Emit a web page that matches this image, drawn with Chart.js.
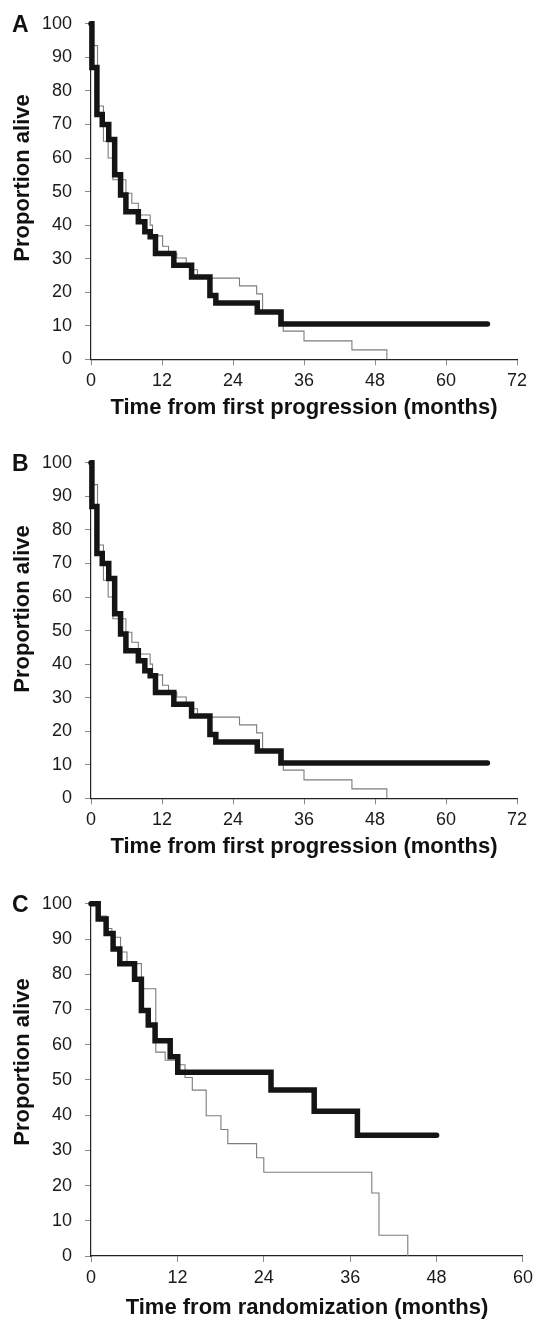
<!DOCTYPE html>
<html><head><meta charset="utf-8">
<script src="https://cdn.jsdelivr.net/npm/chart.js@4.4.1/dist/chart.umd.min.js"></script>
<style>
html,body{margin:0;padding:0;background:#fff;}
body{width:538px;height:1321px;position:relative;overflow:hidden;}
canvas{position:absolute;left:0;}
</style></head><body>
<canvas id="cA" width="538" height="430" style="top:0px"></canvas>
<canvas id="cB" width="538" height="430" style="top:439px"></canvas>
<canvas id="cC" width="538" height="441" style="top:880px"></canvas>
<script>
// ---- Data (months, % alive) ----
const yTicks = [0,10,20,30,40,50,60,70,80,90,100];
const xTicksAB = [0,12,24,36,48,60,72];
const xTicksC = [0,12,24,36,48,60];

const thickA_t = [0,0.15,1.0,1.9,3.0,4.0,5.0,5.9,8.0,9.1,10.0,10.9,14.0,17.0,20.1,21.1,28.1,32.1,67.0];
const thickA_v = [100,87,73,70,65.5,55,49,44,41,38,36.5,31.5,28,24.5,19,16.8,14.1,10.5,10.5];
const thinA_t = [0,0.45,1.1,2.1,2.9,3.7,5.9,6.9,8.0,10.0,10.4,12.1,13.1,14.5,16.1,17.3,18.0,25.1,28.0,29.0,32.5,36.0,44.1,50.0];
const thinA_v = [100,93.5,75.5,65,60,53.5,49.5,46.5,43,40,36.8,33.7,31.5,30.2,28.5,26.7,24.2,21.9,19.5,14.5,8.4,5.5,2.8,0];

const thickB_t = [0,0.15,1.0,1.9,3.0,4.0,5.0,5.9,8.0,9.1,10.0,10.9,14.0,17.0,20.1,21.1,28.1,32.1,67.0];
const thickB_v = [100,87,73,70,65.5,55,49,44,41,38,36.5,31.5,28,24.5,19,16.8,14.1,10.5,10.5];
const thinB_t = [0,0.45,1.1,2.1,2.9,3.7,5.9,6.9,8.0,10.0,10.4,12.1,13.1,14.5,16.1,17.3,18.0,25.1,28.0,29.0,32.5,36.0,44.1,50.0];
const thinB_v = [100,93.5,75.5,65,60,53.5,49.5,46.5,43,40,36.8,33.7,31.5,30.2,28.5,26.7,24.2,21.9,19.5,14.5,8.4,5.5,2.8,0];

const thickC_t = [0,1.0,2.1,3.07,4.0,6.05,7.0,7.95,8.9,11.0,12.05,25.0,31.0,37.0,48.0];
const thickC_v = [100,95.7,91.6,87.2,83,78.6,69.7,65.6,61.1,56.6,52.2,47.1,41.1,34.3,34.3];
const thinC_t = [0,0.8,2.2,2.9,4.1,5.0,7.0,9.0,10.3,11.8,13.06,14.07,16.0,18.05,19.0,23.0,24.0,39.0,40.0,44.0];
const thinC_v = [100,96.5,93,90.5,86.3,83,75.9,57.9,55.6,54.3,50.7,47.1,39.8,35.9,31.9,27.9,23.8,17.9,5.9,0];

const FONT = '"Liberation Sans", Arial, Helvetica, sans-serif';

const panelText = {
  id: 'panelText',
  afterDraw(chart, args, opts) {
    const ctx = chart.ctx;
    ctx.save();
    ctx.fillStyle = '#111';
    ctx.font = 'bold 23px ' + FONT;
    ctx.textAlign = 'left';
    ctx.textBaseline = 'middle';
    ctx.fillText(opts.letter, 12, chart.chartArea.top + 2);
    ctx.translate(23, opts.yTitleY);
    ctx.rotate(-Math.PI / 2);
    ctx.font = 'bold 22px ' + FONT;
    ctx.textAlign = 'center';
    ctx.fillText('Proportion alive', 0, 0);
    ctx.restore();
  }
};

function pts(t, v) { return t.map((x, i) => ({x: x, y: v[i]})); }

function makeChart(id, cfg) {
  return new Chart(document.getElementById(id), {
    type: 'line',
    data: {
      datasets: [
        {data: pts(cfg.thickT, cfg.thickV), stepped: 'before', borderColor: '#141414', borderWidth: 5.5,
         borderCapStyle: 'round', borderJoinStyle: 'miter', pointRadius: 0, fill: false, clip: false},
        {data: pts(cfg.thinT, cfg.thinV), stepped: 'before', borderColor: '#7d7d7d', borderWidth: 1.1,
         pointRadius: 0, fill: false, clip: false}
      ]
    },
    options: {
      responsive: false,
      animation: false,
      parsing: false,
      layout: {padding: {top: cfg.padTop, right: cfg.padRight, left: 0, bottom: 0}},
      plugins: {legend: {display: false}, tooltip: {enabled: false},
                panelText: {letter: cfg.letter, yTitleY: cfg.yTitleY}},
      scales: {
        x: {
          type: 'linear', min: 0, max: cfg.xMax,
          afterBuildTicks: s => { s.ticks = cfg.xTicks.map(v => ({value: v})); },
          afterFit: s => { s.height = cfg.xHeight; },
          border: {display: true, color: '#222', width: 1.2},
          grid: {display: true, drawOnChartArea: false, drawTicks: true, tickLength: 6, color: '#8a8a8a', lineWidth: 1},
          ticks: {font: {family: FONT, size: 18}, color: '#1a1a1a', padding: 5, maxRotation: 0, autoSkip: false},
          title: {display: true, text: cfg.xTitle, color: '#111', font: {family: FONT, size: 22, weight: 'bold'},
                  padding: {top: 0, bottom: cfg.titlePad}}
        },
        y: {
          type: 'linear', min: 0, max: 100,
          afterBuildTicks: s => { s.ticks = yTicks.map(v => ({value: v})); },
          afterFit: s => { s.width = 91; },
          border: {display: true, color: '#222', width: 1.2},
          grid: {display: true, drawOnChartArea: false, drawTicks: true, tickLength: 6, color: '#8a8a8a', lineWidth: 1},
          ticks: {font: {family: FONT, size: 18}, color: '#1a1a1a', padding: 13}
        }
      }
    },
    plugins: [panelText]
  });
}

makeChart('cA', {letter: 'A', thickT: thickA_t, thickV: thickA_v, thinT: thinA_t, thinV: thinA_v,
  xMax: 72, xTicks: xTicksAB, padTop: 21.7, padRight: 21, xHeight: 70.7, titlePad: 8.8, yTitleY: 178,
  xTitle: 'Time from first progression (months)'});
makeChart('cB', {letter: 'B', thickT: thickB_t, thickV: thickB_v, thinT: thinB_t, thinV: thinB_v,
  xMax: 72, xTicks: xTicksAB, padTop: 21.7, padRight: 21, xHeight: 70.7, titlePad: 8.8, yTitleY: 170,
  xTitle: 'Time from first progression (months)'});
makeChart('cC', {letter: 'C', thickT: thickC_t, thickV: thickC_v, thinT: thinC_t, thinV: thinC_v,
  xMax: 60, xTicks: xTicksC, padTop: 23.3, padRight: 12, xHeight: 65, titlePad: 0, yTitleY: 182,
  xTitle: 'Time from randomization (months)'});
</script>
</body></html>
